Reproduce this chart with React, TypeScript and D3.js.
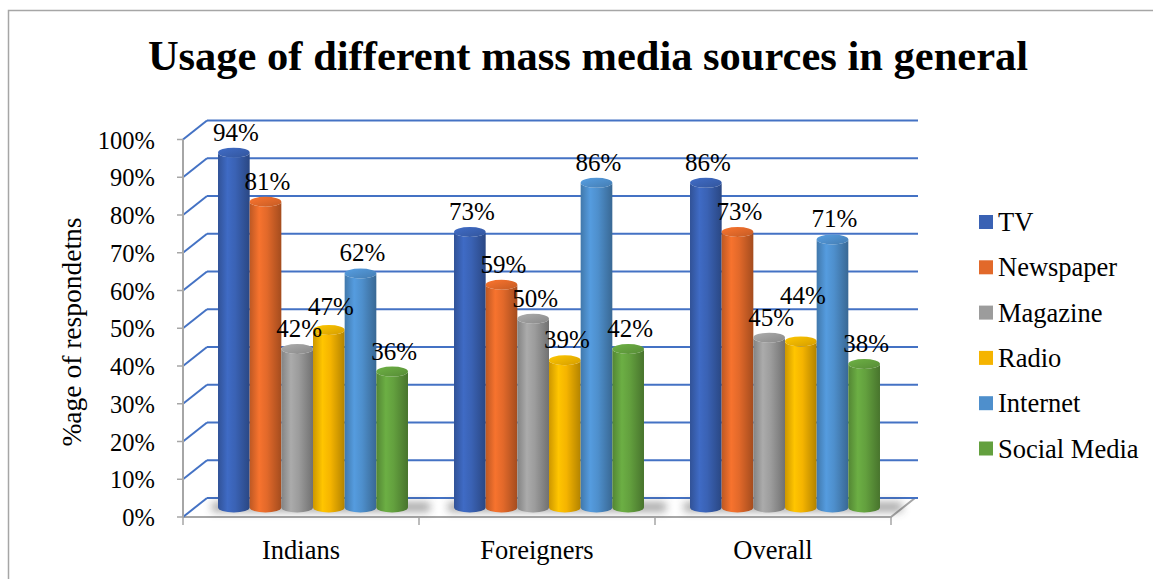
import React from "react";
import * as d3 from "d3";

const categories = ["Indians", "Foreigners", "Overall"];
const seriesNames = ["TV", "Newspaper", "Magazine", "Radio", "Internet", "Social Media"];
const seriesColors = ["#3A62B4", "#E2692A", "#9C9C9C", "#F5B400", "#4E8FCC", "#63A03E"];
const tvValues = [94, 73, 86];
const newspaperValues = [81, 59, 73];
const magazineValues = [42, 50, 45];
const radioValues = [47, 39, 44];
const internetValues = [62, 86, 71];
const socialValues = [36, 42, 38];
const yTicks = [0, 10, 20, 30, 40, 50, 60, 70, 80, 90, 100];

const seriesValues = [tvValues, newspaperValues, magazineValues, radioValues, internetValues, socialValues];

const W = 1153;
const H = 579;
const FONT = "'Liberation Serif', 'Times New Roman', serif";
const tx: React.CSSProperties = { fontFamily: FONT };

// geometry of the 3D box
const x0 = 183;
const x1 = 891;
const depthX = 24;
const depthY = -19;
const yFront = d3.scaleLinear().domain([0, 100]).range([517, 139.5]);

export default function App() {
  const xBand = d3.scaleBand<string>().domain(categories).range([x0, x1]).paddingInner(0).paddingOuter(0);
  const bw = xBand.bandwidth();
  const groupW = bw * 0.805;
  const inner = d3.scaleBand<string>().domain(seriesNames).range([0, groupW]).padding(0);
  const barW = inner.bandwidth();
  const midX = depthX / 2;
  const midY = depthY / 2;
  const ry = 5;

  const cyl = (L: number, T: number, B: number, w: number) => {
    const rx = w / 2;
    return `M${L},${T} L${L},${B} A${rx},${ry} 0 0 0 ${L + w},${B} L${L + w},${T} A${rx},${ry} 0 0 1 ${L},${T} Z`;
  };

  // label placement with simple collision avoidance (push upward)
  const labels: { key: string; x: number; y: number; text: string }[] = [];
  categories.forEach((c, ci) => {
    const gx = xBand(c)! + (bw - groupW) / 2 + midX;
    let prevY: number | null = null;
    seriesNames.forEach((s, si) => {
      const v = seriesValues[si][ci];
      const cx = gx + inner(s)! + barW / 2 + 2;
      let cy = yFront(v) + midY - 20;
      if (prevY !== null && Math.abs(cy - prevY) < 22) {
        cy = Math.min(cy, prevY - 22);
      }
      prevY = cy;
      labels.push({ key: `${c}-${s}`, x: cx, y: cy, text: `${v}%` });
    });
  });

  return (
    <svg width={W} height={H} style={{ position: "absolute", left: 0, top: 0, background: "#fff", fontFamily: FONT }}>
      <defs>
        {seriesColors.map((c, i) => {
          const base = d3.color(c)!;
          return (
            <React.Fragment key={i}>
              <linearGradient id={`g${i}`} x1="0" x2="1" y1="0" y2="0">
                <stop offset="0%" stopColor={base.darker(0.5).formatHex()} />
                <stop offset="30%" stopColor={base.brighter(0.25).formatHex()} />
                <stop offset="55%" stopColor={base.formatHex()} />
                <stop offset="100%" stopColor={base.darker(0.9).formatHex()} />
              </linearGradient>
              <linearGradient id={`t${i}`} x1="0" x2="1" y1="0" y2="1">
                <stop offset="0%" stopColor={base.brighter(0.3).formatHex()} />
                <stop offset="100%" stopColor={base.darker(0.4).formatHex()} />
              </linearGradient>
            </React.Fragment>
          );
        })}
        <filter id="blur" x="-20%" y="-200%" width="140%" height="500%">
          <feGaussianBlur stdDeviation="4" />
        </filter>
      </defs>

      {/* chart border */}
      <rect x={8.5} y={10.5} width={1300} height={700} fill="none" stroke="#A6A6A6" strokeWidth={1.5} />

      {/* title */}
      <text x={588} y={70} textAnchor="middle" fontSize={42.5} fontWeight="bold" fill="#000" style={tx}>
        Usage of different mass media sources in general
      </text>

      {/* floor */}
      <path
        d={`M${x0},${yFront(0)} L${x1},${yFront(0)} L${x1 + depthX},${yFront(0) + depthY}`}
        fill="none"
        stroke="#A6A6A6"
        strokeWidth={2}
      />

      {/* gridlines: side wall diagonals and back wall */}
      {yTicks.map((t) => (
        <g key={t}>
          <line x1={x0} y1={yFront(t)} x2={x0 + depthX} y2={yFront(t) + depthY} stroke="#4472C4" strokeWidth={2} />
          <line x1={x0 + depthX} y1={yFront(t) + depthY} x2={x1 + depthX + 3} y2={yFront(t) + depthY} stroke="#4472C4" strokeWidth={2} />
        </g>
      ))}

      {/* left axis */}
      <line x1={x0} y1={yFront(100)} x2={x0} y2={yFront(0)} stroke="#A6A6A6" strokeWidth={2} />
      {yTicks.map((t) => (
        <g key={`yt${t}`}>
          <line x1={x0 - 6} y1={yFront(t)} x2={x0} y2={yFront(t)} stroke="#A6A6A6" strokeWidth={1.5} />
          <text x={155} y={yFront(t) + 9} textAnchor="end" fontSize={24.5} fill="#000" style={tx}>
            {t}%
          </text>
        </g>
      ))}

      {/* x ticks */}
      {[...categories.map((c) => xBand(c)!), x1].map((x, i) => (
        <line key={`xt${i}`} x1={x} y1={yFront(0)} x2={x} y2={yFront(0) + 8} stroke="#A6A6A6" strokeWidth={1.5} />
      ))}

      {/* shadows */}
      {categories.map((c) => {
        const gx = xBand(c)! + (bw - groupW) / 2 + midX;
        return (
          <rect
            key={`sh${c}`}
            x={gx - 6}
            y={yFront(0) + midY - 5}
            width={groupW + 28}
            height={9}
            fill="#444"
            opacity={0.5}
            filter="url(#blur)"
          />
        );
      })}

      {/* bars */}
      {categories.map((c, ci) => {
        const gx = xBand(c)! + (bw - groupW) / 2 + midX;
        return (
          <g key={`bars${c}`}>
            {seriesNames.map((s, si) => {
              const v = seriesValues[si][ci];
              const L = gx + inner(s)!;
              const T = yFront(v) + midY;
              const B = yFront(0) + midY;
              return (
                <g key={s}>
                  <path d={cyl(L, T, B, barW)} fill={`url(#g${si})`} />
                  <ellipse cx={L + barW / 2} cy={T} rx={barW / 2} ry={ry} fill={`url(#t${si})`} />
                </g>
              );
            })}
          </g>
        );
      })}

      {/* data labels */}
      {labels.map((l) => (
        <text key={l.key} x={l.x} y={l.y + 8} textAnchor="middle" fontSize={25} fill="#000" style={tx}>
          {l.text}
        </text>
      ))}

      {/* category labels */}
      {categories.map((c) => (
        <text key={`cl${c}`} x={xBand(c)! + bw / 2} y={559} textAnchor="middle" fontSize={26.5} fill="#000" style={tx}>
          {c}
        </text>
      ))}

      {/* y-axis title */}
      <text transform={`translate(81, 332) rotate(-90)`} textAnchor="middle" fontSize={27.5} fill="#000" style={tx}>
        %age of respondetns
      </text>

      {/* legend */}
      {seriesNames.map((s, i) => {
        const cy = 222 + i * 45.3;
        return (
          <g key={`lg${s}`}>
            <rect x={979} y={cy - 7} width={14} height={14} fill={seriesColors[i]} />
            <text x={998} y={cy + 9} fontSize={26.5} fill="#000" style={tx}>
              {s}
            </text>
          </g>
        );
      })}
    </svg>
  );
}
